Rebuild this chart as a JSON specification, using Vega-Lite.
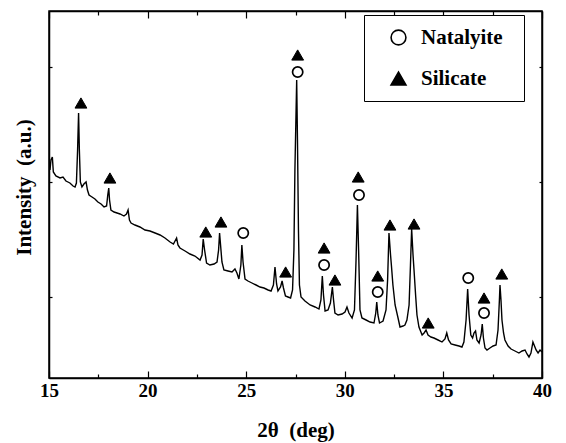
{
  "$schema": "https://vega.github.io/schema/vega-lite/v6.json",
  "width": 493,
  "height": 367,
  "autosize": {"type": "none"},
  "padding": {"left": 49, "top": 11, "right": 24, "bottom": 65},
  "background": "white",
  "config": {
    "view": {"stroke": "black", "strokeWidth": 1.5},
    "axis": {
      "grid": false,
      "domainColor": "black",
      "domainWidth": 1.5,
      "tickColor": "black",
      "tickWidth": 1.2,
      "labelFont": "Liberation Serif",
      "labelFontWeight": "bold",
      "labelFontSize": 19,
      "labelColor": "black",
      "labelFlush": false,
      "titleFont": "Liberation Serif",
      "titleFontWeight": "bold",
      "titleFontSize": 21,
      "titleColor": "black"
    },
    "legend": {
      "orient": "none",
      "legendX": 315,
      "legendY": 4,
      "strokeColor": "black",
      "fillColor": "white",
      "padding": 12,
      "symbolSize": 220,
      "symbolOffset": 12,
      "symbolStrokeWidth": 1.6,
      "labelFont": "Liberation Serif",
      "labelFontWeight": "bold",
      "labelFontSize": 21,
      "labelColor": "black",
      "labelOffset": 12,
      "rowPadding": 18,
      "titleOrient": "right",
      "titleFontSize": 10,
      "titlePadding": 9
    }
  },
  "datasets": {
    "pattern": [
      {"t": 15.05, "i": 208}, {"t": 15.10, "i": 218}, {"t": 15.17, "i": 221}, {"t": 15.22, "i": 206},
      {"t": 15.35, "i": 202}, {"t": 15.56, "i": 200}, {"t": 15.71, "i": 201}, {"t": 15.86, "i": 197},
      {"t": 16.06, "i": 195}, {"t": 16.22, "i": 192}, {"t": 16.32, "i": 191}, {"t": 16.39, "i": 195},
      {"t": 16.45, "i": 228}, {"t": 16.50, "i": 265}, {"t": 16.54, "i": 228}, {"t": 16.59, "i": 196},
      {"t": 16.67, "i": 191}, {"t": 16.77, "i": 194}, {"t": 16.88, "i": 196}, {"t": 16.95, "i": 188},
      {"t": 17.03, "i": 183}, {"t": 17.18, "i": 181}, {"t": 17.33, "i": 179}, {"t": 17.48, "i": 176},
      {"t": 17.64, "i": 174}, {"t": 17.79, "i": 171}, {"t": 17.92, "i": 172}, {"t": 17.98, "i": 183},
      {"t": 18.03, "i": 190}, {"t": 18.07, "i": 178}, {"t": 18.14, "i": 168}, {"t": 18.30, "i": 166},
      {"t": 18.45, "i": 165}, {"t": 18.60, "i": 164}, {"t": 18.80, "i": 162}, {"t": 18.93, "i": 164},
      {"t": 19.01, "i": 168}, {"t": 19.08, "i": 158}, {"t": 19.16, "i": 155}, {"t": 19.36, "i": 153},
      {"t": 19.61, "i": 151}, {"t": 19.87, "i": 148}, {"t": 20.12, "i": 147}, {"t": 20.38, "i": 145},
      {"t": 20.63, "i": 143}, {"t": 20.88, "i": 140}, {"t": 21.14, "i": 136}, {"t": 21.31, "i": 134},
      {"t": 21.47, "i": 140}, {"t": 21.54, "i": 133}, {"t": 21.64, "i": 130}, {"t": 21.90, "i": 127},
      {"t": 22.15, "i": 124}, {"t": 22.40, "i": 122}, {"t": 22.66, "i": 118}, {"t": 22.76, "i": 123},
      {"t": 22.82, "i": 139}, {"t": 22.89, "i": 128}, {"t": 22.99, "i": 115}, {"t": 23.16, "i": 113},
      {"t": 23.37, "i": 114}, {"t": 23.52, "i": 116}, {"t": 23.60, "i": 128}, {"t": 23.65, "i": 145},
      {"t": 23.70, "i": 133}, {"t": 23.77, "i": 116}, {"t": 23.87, "i": 108}, {"t": 24.08, "i": 107},
      {"t": 24.28, "i": 106}, {"t": 24.43, "i": 109}, {"t": 24.53, "i": 105}, {"t": 24.63, "i": 99},
      {"t": 24.73, "i": 113}, {"t": 24.78, "i": 133}, {"t": 24.84, "i": 116}, {"t": 24.94, "i": 99},
      {"t": 25.09, "i": 97}, {"t": 25.29, "i": 95}, {"t": 25.50, "i": 93}, {"t": 25.70, "i": 91},
      {"t": 25.90, "i": 90}, {"t": 26.11, "i": 88}, {"t": 26.26, "i": 87}, {"t": 26.38, "i": 93},
      {"t": 26.46, "i": 111}, {"t": 26.54, "i": 94}, {"t": 26.61, "i": 87}, {"t": 26.74, "i": 91},
      {"t": 26.82, "i": 97}, {"t": 26.89, "i": 90}, {"t": 26.99, "i": 82}, {"t": 27.12, "i": 81},
      {"t": 27.25, "i": 80}, {"t": 27.35, "i": 88}, {"t": 27.42, "i": 128}, {"t": 27.47, "i": 208},
      {"t": 27.53, "i": 268}, {"t": 27.56, "i": 298}, {"t": 27.60, "i": 238}, {"t": 27.65, "i": 148},
      {"t": 27.70, "i": 93}, {"t": 27.78, "i": 81}, {"t": 27.98, "i": 77}, {"t": 28.24, "i": 73},
      {"t": 28.49, "i": 71}, {"t": 28.69, "i": 69}, {"t": 28.79, "i": 78}, {"t": 28.86, "i": 102},
      {"t": 28.92, "i": 83}, {"t": 29.00, "i": 67}, {"t": 29.15, "i": 68}, {"t": 29.27, "i": 75},
      {"t": 29.37, "i": 91}, {"t": 29.43, "i": 78}, {"t": 29.50, "i": 65}, {"t": 29.66, "i": 63},
      {"t": 29.86, "i": 64}, {"t": 30.01, "i": 66}, {"t": 30.11, "i": 71}, {"t": 30.21, "i": 65},
      {"t": 30.37, "i": 60}, {"t": 30.49, "i": 68}, {"t": 30.57, "i": 118}, {"t": 30.64, "i": 173},
      {"t": 30.70, "i": 128}, {"t": 30.77, "i": 68}, {"t": 30.87, "i": 60}, {"t": 31.08, "i": 58},
      {"t": 31.28, "i": 56}, {"t": 31.48, "i": 55}, {"t": 31.57, "i": 65}, {"t": 31.62, "i": 76},
      {"t": 31.68, "i": 63}, {"t": 31.76, "i": 55}, {"t": 31.94, "i": 57}, {"t": 32.09, "i": 68},
      {"t": 32.17, "i": 98}, {"t": 32.24, "i": 145}, {"t": 32.32, "i": 123}, {"t": 32.37, "i": 111},
      {"t": 32.44, "i": 93}, {"t": 32.55, "i": 73}, {"t": 32.70, "i": 60}, {"t": 32.80, "i": 51},
      {"t": 32.95, "i": 52}, {"t": 33.05, "i": 53}, {"t": 33.15, "i": 58}, {"t": 33.26, "i": 73},
      {"t": 33.33, "i": 113}, {"t": 33.39, "i": 149}, {"t": 33.46, "i": 123}, {"t": 33.51, "i": 108},
      {"t": 33.59, "i": 83}, {"t": 33.66, "i": 63}, {"t": 33.76, "i": 51}, {"t": 33.92, "i": 43},
      {"t": 34.02, "i": 45}, {"t": 34.12, "i": 48}, {"t": 34.22, "i": 43}, {"t": 34.37, "i": 41},
      {"t": 34.52, "i": 40}, {"t": 34.73, "i": 38}, {"t": 34.93, "i": 36}, {"t": 35.08, "i": 39},
      {"t": 35.17, "i": 45}, {"t": 35.26, "i": 38}, {"t": 35.39, "i": 34}, {"t": 35.59, "i": 33},
      {"t": 35.79, "i": 32}, {"t": 35.94, "i": 31}, {"t": 36.04, "i": 36}, {"t": 36.15, "i": 58},
      {"t": 36.23, "i": 89}, {"t": 36.30, "i": 63}, {"t": 36.39, "i": 43}, {"t": 36.48, "i": 40},
      {"t": 36.55, "i": 45}, {"t": 36.63, "i": 47}, {"t": 36.70, "i": 38}, {"t": 36.81, "i": 35},
      {"t": 36.91, "i": 43}, {"t": 36.97, "i": 54}, {"t": 37.03, "i": 40}, {"t": 37.11, "i": 30},
      {"t": 37.21, "i": 28}, {"t": 37.36, "i": 30}, {"t": 37.52, "i": 32}, {"t": 37.67, "i": 33},
      {"t": 37.77, "i": 48}, {"t": 37.84, "i": 78}, {"t": 37.87, "i": 93}, {"t": 37.92, "i": 78},
      {"t": 37.97, "i": 58}, {"t": 38.05, "i": 45}, {"t": 38.12, "i": 38}, {"t": 38.28, "i": 32},
      {"t": 38.43, "i": 29}, {"t": 38.63, "i": 27}, {"t": 38.83, "i": 25}, {"t": 38.99, "i": 27},
      {"t": 39.14, "i": 28}, {"t": 39.24, "i": 24}, {"t": 39.34, "i": 21}, {"t": 39.44, "i": 25},
      {"t": 39.54, "i": 36}, {"t": 39.62, "i": 32}, {"t": 39.70, "i": 28}, {"t": 39.80, "i": 25},
      {"t": 39.90, "i": 28}, {"t": 40.00, "i": 26}
    ],
    "markers": [
      {"t": 16.62, "i": 275, "phase": "Silicate"},
      {"t": 18.09, "i": 200, "phase": "Silicate"},
      {"t": 22.95, "i": 146, "phase": "Silicate"},
      {"t": 23.72, "i": 156, "phase": "Silicate"},
      {"t": 27.00, "i": 106, "phase": "Silicate"},
      {"t": 27.61, "i": 323, "phase": "Silicate"},
      {"t": 28.95, "i": 130, "phase": "Silicate"},
      {"t": 29.50, "i": 98, "phase": "Silicate"},
      {"t": 30.68, "i": 201, "phase": "Silicate"},
      {"t": 31.67, "i": 102, "phase": "Silicate"},
      {"t": 32.29, "i": 153, "phase": "Silicate"},
      {"t": 33.51, "i": 154, "phase": "Silicate"},
      {"t": 34.23, "i": 55, "phase": "Silicate"},
      {"t": 37.06, "i": 80, "phase": "Silicate"},
      {"t": 37.96, "i": 104, "phase": "Silicate"},
      {"t": 24.85, "i": 145, "phase": "Natalyite"},
      {"t": 27.61, "i": 306, "phase": "Natalyite"},
      {"t": 28.95, "i": 113, "phase": "Natalyite"},
      {"t": 30.72, "i": 183, "phase": "Natalyite"},
      {"t": 31.67, "i": 86, "phase": "Natalyite"},
      {"t": 36.26, "i": 100, "phase": "Natalyite"},
      {"t": 37.06, "i": 65, "phase": "Natalyite"}
    ]
  },
  "layer": [
    {
      "data": {"name": "pattern"},
      "mark": {"type": "line", "color": "black", "strokeWidth": 1.4, "clip": true},
      "encoding": {
        "x": {
          "field": "t", "type": "quantitative",
          "scale": {"domain": [15, 40], "nice": false, "zero": false},
          "axis": {
            "orient": "bottom",
            "title": "2θ\u00a0\u00a0(deg)",
            "values": [15, 17.5, 20, 22.5, 25, 27.5, 30, 32.5, 35, 37.5, 40],
            "labelExpr": "datum.value % 5 == 0 ? datum.label : ''",
            "tickSize": {"condition": {"test": "datum.value % 5 == 0", "value": -7}, "value": -4},
            "labelPadding": 10,
            "titlePadding": 19
          }
        },
        "y": {
          "field": "i", "type": "quantitative",
          "scale": {"domain": [0, 367], "nice": false, "zero": false},
          "axis": {
            "orient": "left",
            "title": "Intensity\u00a0\u00a0(a.u.)",
            "values": [81, 196, 311],
            "labels": false,
            "tickSize": -3,
            "titlePadding": 14,
            "titleY": 176
          }
        }
      }
    },
    {
      "data": {"name": "markers"},
      "transform": [{"filter": "datum.phase == 'Natalyite'"}],
      "mark": {"type": "point", "filled": true, "size": 105, "strokeWidth": 1.7, "opacity": 1},
      "encoding": {
        "x": {
          "field": "t", "type": "quantitative",
          "scale": {"domain": [15, 40], "nice": false, "zero": false},
          "axis": {
            "orient": "top",
            "title": null,
            "values": [15, 17.5, 20, 22.5, 25, 27.5, 30, 32.5, 35, 37.5, 40],
            "labels": false,
            "tickSize": {"condition": {"test": "datum.value % 5 == 0", "value": -7}, "value": -4}
          }
        },
        "y": {
          "field": "i", "type": "quantitative",
          "scale": {"domain": [0, 367], "nice": false, "zero": false},
          "axis": {
            "orient": "right",
            "title": null,
            "values": [81, 196, 311],
            "labels": false,
            "tickSize": -3
          }
        },
        "shape": {
          "field": "phase", "type": "nominal",
          "scale": {"domain": ["Natalyite", "Silicate"], "range": ["circle", "triangle-up"]},
          "legend": {"title": "\u00a0"}
        },
        "fill": {
          "field": "phase", "type": "nominal",
          "scale": {"domain": ["Natalyite", "Silicate"], "range": ["white", "black"]},
          "legend": {"title": "\u00a0"}
        },
        "stroke": {
          "field": "phase", "type": "nominal",
          "scale": {"domain": ["Natalyite", "Silicate"], "range": ["black", "black"]},
          "legend": {"title": "\u00a0"}
        }
      }
    },
    {
      "data": {"name": "markers"},
      "transform": [{"filter": "datum.phase == 'Silicate'"}],
      "mark": {"type": "point", "filled": true, "size": 140, "strokeWidth": 1, "opacity": 1},
      "encoding": {
        "x": {"field": "t", "type": "quantitative", "axis": null},
        "y": {"field": "i", "type": "quantitative", "axis": null},
        "shape": {"field": "phase", "type": "nominal"},
        "fill": {"field": "phase", "type": "nominal"},
        "stroke": {"field": "phase", "type": "nominal"}
      }
    }
  ],
  "resolve": {"axis": {"x": "independent", "y": "independent"}}
}
